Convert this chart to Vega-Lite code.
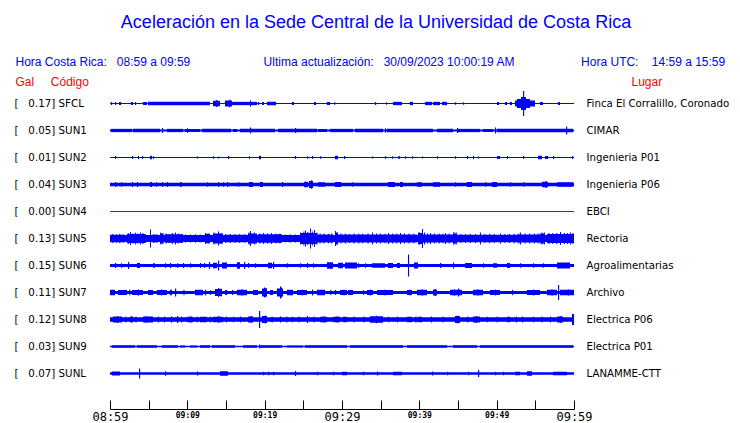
{
  "$schema": "https://vega.github.io/schema/vega-lite/v6.json",
  "autosize": "none",
  "width": 464,
  "height": 297,
  "padding": {"left": 110, "top": 90, "right": 166, "bottom": 36},
  "background": "white",
  "config": {"view": {"stroke": null}, "axis": {"grid": false}},
  "title": {
    "text": "Aceleración en la Sede Central de la Universidad de Costa Rica",
    "anchor": "middle",
    "frame": "group",
    "dx": 34,
    "offset": 23,
    "font": "Liberation Sans",
    "fontSize": 18,
    "fontWeight": "normal",
    "color": "#0000ff"
  },
  "datasets": {
    "info": [
      {"c": "SFCL", "gal": 0.17, "lab": "[\u00a0\u00a0\u00a00.17]\u00a0SFCL", "place": "Finca El Corralillo, Coronado", "floor": 1.2},
      {"c": "SUN1", "gal": 0.05, "lab": "[\u00a0\u00a0\u00a00.05]\u00a0SUN1", "place": "CIMAR", "floor": 2},
      {"c": "SUN2", "gal": 0.01, "lab": "[\u00a0\u00a0\u00a00.01]\u00a0SUN2", "place": "Ingenieria P01", "floor": 1.2},
      {"c": "SUN3", "gal": 0.04, "lab": "[\u00a0\u00a0\u00a00.04]\u00a0SUN3", "place": "Ingenieria P06", "floor": 3.3},
      {"c": "SUN4", "gal": 0.00, "lab": "[\u00a0\u00a0\u00a00.00]\u00a0SUN4", "place": "EBCI", "floor": 1},
      {"c": "SUN5", "gal": 0.13, "lab": "[\u00a0\u00a0\u00a00.13]\u00a0SUN5", "place": "Rectoria", "floor": 7},
      {"c": "SUN6", "gal": 0.15, "lab": "[\u00a0\u00a0\u00a00.15]\u00a0SUN6", "place": "Agroalimentarias", "floor": 3},
      {"c": "SUN7", "gal": 0.11, "lab": "[\u00a0\u00a0\u00a00.11]\u00a0SUN7", "place": "Archivo", "floor": 3},
      {"c": "SUN8", "gal": 0.12, "lab": "[\u00a0\u00a0\u00a00.12]\u00a0SUN8", "place": "Electrica P06", "floor": 4.5},
      {"c": "SUN9", "gal": 0.03, "lab": "[\u00a0\u00a0\u00a00.03]\u00a0SUN9", "place": "Electrica P01", "floor": 1.5},
      {"c": "SUNL", "gal": 0.07, "lab": "[\u00a0\u00a0\u00a00.07]\u00a0SUNL", "place": "LANAMME-CTT", "floor": 2.7}
    ],
    "seg": [
      {"c":"SFCL","t":0.13,"t2":0.28,"a":3},{"c":"SFCL","t":0.65,"t2":0.8,"a":3},{"c":"SFCL","t":1.16,"t2":1.42,"a":3},{"c":"SFCL","t":2.72,"t2":2.97,"a":3},{"c":"SFCL","t":3.23,"t2":3.38,"a":3},{"c":"SFCL","t":4.27,"t2":4.78,"a":3},{"c":"SFCL","t":4.91,"t2":12.93,"a":3.3},{"c":"SFCL","t":13.32,"t2":14.22,"a":5.5},{"c":"SFCL","t":13.71,"t2":13.86,"a":7},{"c":"SFCL","t":14.87,"t2":15.78,"a":6},{"c":"SFCL","t":15.4,"t2":15.55,"a":7.5},{"c":"SFCL","t":15.78,"t2":19.01,"a":3.3},{"c":"SFCL","t":18.1,"t2":18.25,"a":6},{"c":"SFCL","t":19.14,"t2":19.3,"a":3},{"c":"SFCL","t":19.66,"t2":19.91,"a":3},{"c":"SFCL","t":20.3,"t2":21.47,"a":3.5},{"c":"SFCL","t":23.53,"t2":23.79,"a":3},{"c":"SFCL","t":26.38,"t2":26.64,"a":3},{"c":"SFCL","t":28.06,"t2":28.45,"a":3},{"c":"SFCL","t":28.97,"t2":29.12,"a":2.5},{"c":"SFCL","t":34.27,"t2":34.42,"a":3},{"c":"SFCL","t":35.69,"t2":35.84,"a":2.5},{"c":"SFCL","t":36.59,"t2":37.76,"a":3.3},{"c":"SFCL","t":38.79,"t2":39.18,"a":3.3},{"c":"SFCL","t":40.73,"t2":41.64,"a":3.3},{"c":"SFCL","t":41.77,"t2":42.67,"a":3.3},{"c":"SFCL","t":42.93,"t2":43.58,"a":3.3},{"c":"SFCL","t":44.61,"t2":44.76,"a":2.5},{"c":"SFCL","t":45.65,"t2":45.8,"a":2.5},{"c":"SFCL","t":50.04,"t2":50.3,"a":3},{"c":"SFCL","t":51.08,"t2":51.34,"a":3},{"c":"SFCL","t":51.72,"t2":51.98,"a":3},{"c":"SFCL","t":52.37,"t2":54.96,"a":6},{"c":"SFCL","t":52.63,"t2":54.31,"a":9},{"c":"SFCL","t":53.15,"t2":53.79,"a":13},{"c":"SFCL","t":53.41,"t2":53.56,"a":25},{"c":"SFCL","t":55.6,"t2":55.99,"a":3},{"c":"SFCL","t":57.93,"t2":58.19,"a":3},
      {"c":"SUN1","t":0.13,"t2":2.84,"a":3.3},{"c":"SUN1","t":2.97,"t2":6.47,"a":3.5},{"c":"SUN1","t":7.37,"t2":9.44,"a":3.3},{"c":"SUN1","t":9.7,"t2":11.64,"a":3},{"c":"SUN1","t":11.9,"t2":15.65,"a":3.5},{"c":"SUN1","t":15.91,"t2":16.42,"a":3},{"c":"SUN1","t":16.81,"t2":21.34,"a":3.3},{"c":"SUN1","t":21.72,"t2":26.77,"a":3.5},{"c":"SUN1","t":26.9,"t2":28.06,"a":3},{"c":"SUN1","t":28.45,"t2":31.42,"a":3.3},{"c":"SUN1","t":31.68,"t2":35.3,"a":3.5},{"c":"SUN1","t":35.82,"t2":41.77,"a":3.3},{"c":"SUN1","t":42.28,"t2":44.35,"a":3.5},{"c":"SUN1","t":45.0,"t2":47.84,"a":3.3},{"c":"SUN1","t":48.23,"t2":49.53,"a":3},{"c":"SUN1","t":50.04,"t2":59.87,"a":3.5},{"c":"SUN1","t":6.72,"t2":6.87,"a":5},{"c":"SUN1","t":9.96,"t2":10.11,"a":4.5},{"c":"SUN1","t":18.1,"t2":18.25,"a":6},{"c":"SUN1","t":23.92,"t2":24.07,"a":5},{"c":"SUN1","t":35.56,"t2":35.71,"a":4.5},{"c":"SUN1","t":44.87,"t2":45.02,"a":5},{"c":"SUN1","t":49.78,"t2":49.93,"a":6},{"c":"SUN1","t":58.97,"t2":59.12,"a":8},
      {"c":"SUN2","t":0.65,"t2":0.8,"a":3},{"c":"SUN2","t":2.84,"t2":2.99,"a":3},{"c":"SUN2","t":3.62,"t2":3.75,"a":3.5},{"c":"SUN2","t":4.14,"t2":4.29,"a":3},{"c":"SUN2","t":5.17,"t2":5.43,"a":3.5},{"c":"SUN2","t":5.56,"t2":5.71,"a":2.5},{"c":"SUN2","t":11.25,"t2":11.4,"a":2},{"c":"SUN2","t":13.32,"t2":13.47,"a":2.5},{"c":"SUN2","t":13.97,"t2":14.12,"a":2},{"c":"SUN2","t":15.26,"t2":15.41,"a":3},{"c":"SUN2","t":17.97,"t2":18.12,"a":2.5},{"c":"SUN2","t":19.27,"t2":19.53,"a":3.5},{"c":"SUN2","t":23.92,"t2":24.07,"a":3},{"c":"SUN2","t":25.47,"t2":25.62,"a":2.5},{"c":"SUN2","t":26.12,"t2":26.25,"a":3},{"c":"SUN2","t":27.16,"t2":27.31,"a":2.5},{"c":"SUN2","t":29.09,"t2":29.48,"a":3.5},{"c":"SUN2","t":30.26,"t2":30.41,"a":3},{"c":"SUN2","t":33.88,"t2":34.03,"a":2},{"c":"SUN2","t":35.56,"t2":35.71,"a":2.5},{"c":"SUN2","t":36.47,"t2":36.62,"a":2.5},{"c":"SUN2","t":37.24,"t2":37.5,"a":2.5},{"c":"SUN2","t":38.15,"t2":38.3,"a":2.5},{"c":"SUN2","t":39.05,"t2":39.2,"a":2.5},{"c":"SUN2","t":40.34,"t2":40.49,"a":2},{"c":"SUN2","t":42.28,"t2":42.43,"a":2.5},{"c":"SUN2","t":44.61,"t2":44.76,"a":2.5},{"c":"SUN2","t":46.16,"t2":46.31,"a":3},{"c":"SUN2","t":46.94,"t2":47.07,"a":3.5},{"c":"SUN2","t":47.59,"t2":47.74,"a":2},{"c":"SUN2","t":50.04,"t2":50.43,"a":3},{"c":"SUN2","t":51.34,"t2":51.47,"a":3},{"c":"SUN2","t":53.41,"t2":53.56,"a":3},{"c":"SUN2","t":55.34,"t2":55.86,"a":3.5},{"c":"SUN2","t":56.25,"t2":56.64,"a":3},{"c":"SUN2","t":57.28,"t2":57.43,"a":3},{"c":"SUN2","t":59.75,"t2":59.9,"a":3},
      {"c":"SUN3","t":0.65,"t2":0.8,"a":5},{"c":"SUN3","t":1.42,"t2":1.57,"a":4.5},{"c":"SUN3","t":2.84,"t2":2.99,"a":5},{"c":"SUN3","t":3.49,"t2":3.64,"a":5},{"c":"SUN3","t":5.17,"t2":5.43,"a":5},{"c":"SUN3","t":5.95,"t2":6.1,"a":4.5},{"c":"SUN3","t":6.72,"t2":6.87,"a":4.5},{"c":"SUN3","t":7.37,"t2":7.52,"a":5},{"c":"SUN3","t":9.05,"t2":9.31,"a":4.5},{"c":"SUN3","t":12.54,"t2":12.69,"a":4.5},{"c":"SUN3","t":13.97,"t2":14.12,"a":4.5},{"c":"SUN3","t":14.61,"t2":14.76,"a":4.5},{"c":"SUN3","t":15.13,"t2":15.28,"a":5},{"c":"SUN3","t":16.55,"t2":16.7,"a":4.5},{"c":"SUN3","t":17.97,"t2":18.49,"a":5},{"c":"SUN3","t":19.4,"t2":19.78,"a":5},{"c":"SUN3","t":22.24,"t2":22.39,"a":5},{"c":"SUN3","t":25.09,"t2":25.6,"a":5.5},{"c":"SUN3","t":25.73,"t2":26.25,"a":7},{"c":"SUN3","t":25.99,"t2":26.14,"a":8.5},{"c":"SUN3","t":26.9,"t2":27.8,"a":4.5},{"c":"SUN3","t":29.09,"t2":29.87,"a":5},{"c":"SUN3","t":31.29,"t2":31.44,"a":4.5},{"c":"SUN3","t":35.95,"t2":36.85,"a":5},{"c":"SUN3","t":37.5,"t2":37.89,"a":5},{"c":"SUN3","t":39.7,"t2":40.34,"a":4.5},{"c":"SUN3","t":41.77,"t2":42.67,"a":4.5},{"c":"SUN3","t":44.61,"t2":44.76,"a":4.5},{"c":"SUN3","t":46.16,"t2":46.81,"a":5},{"c":"SUN3","t":48.49,"t2":48.64,"a":4.5},{"c":"SUN3","t":49.4,"t2":50.04,"a":5},{"c":"SUN3","t":51.72,"t2":51.87,"a":4.5},{"c":"SUN3","t":53.41,"t2":53.56,"a":4.5},{"c":"SUN3","t":55.86,"t2":56.64,"a":5.5},{"c":"SUN3","t":56.3,"t2":56.45,"a":7},{"c":"SUN3","t":57.8,"t2":59.87,"a":4.5},
      {"c":"SUN5","t":0,"t2":1.94,"a":7.5},{"c":"SUN5","t":2.2,"t2":4.53,"a":9},{"c":"SUN5","t":5.43,"t2":6.21,"a":7.5},{"c":"SUN5","t":6.47,"t2":6.85,"a":10},{"c":"SUN5","t":7.11,"t2":9.44,"a":8.5},{"c":"SUN5","t":12.28,"t2":12.93,"a":9.5},{"c":"SUN5","t":13.32,"t2":14.61,"a":10},{"c":"SUN5","t":14.87,"t2":17.72,"a":7.5},{"c":"SUN5","t":17.85,"t2":19.01,"a":10},{"c":"SUN5","t":19.14,"t2":22.24,"a":8.5},{"c":"SUN5","t":24.57,"t2":26.77,"a":11},{"c":"SUN5","t":26.77,"t2":28.84,"a":8},{"c":"SUN5","t":29.09,"t2":29.48,"a":11},{"c":"SUN5","t":29.48,"t2":39.7,"a":8},{"c":"SUN5","t":39.83,"t2":40.47,"a":11},{"c":"SUN5","t":40.47,"t2":44.35,"a":8},{"c":"SUN5","t":44.35,"t2":44.87,"a":10},{"c":"SUN5","t":44.87,"t2":52.63,"a":7.5},{"c":"SUN5","t":52.63,"t2":55.6,"a":8},{"c":"SUN5","t":55.6,"t2":56.25,"a":10},{"c":"SUN5","t":56.51,"t2":60,"a":9},
      {"c":"SUN5","t":0.3,"t2":0.43,"a":9},{"c":"SUN5","t":0.8,"t2":0.93,"a":8.5},{"c":"SUN5","t":1.2,"t2":1.33,"a":9.5},{"c":"SUN5","t":1.6,"t2":1.73,"a":8},{"c":"SUN5","t":2.3,"t2":2.43,"a":11},{"c":"SUN5","t":2.59,"t2":2.72,"a":13},{"c":"SUN5","t":2.9,"t2":3.03,"a":10},{"c":"SUN5","t":3.2,"t2":3.33,"a":12},{"c":"SUN5","t":3.5,"t2":3.63,"a":10},{"c":"SUN5","t":3.88,"t2":4.01,"a":12},{"c":"SUN5","t":4.2,"t2":4.33,"a":11},{"c":"SUN5","t":4.5,"t2":4.63,"a":9},{"c":"SUN5","t":5.17,"t2":5.3,"a":18},{"c":"SUN5","t":5.6,"t2":5.73,"a":9},{"c":"SUN5","t":6.0,"t2":6.13,"a":8.5},{"c":"SUN5","t":6.5,"t2":6.63,"a":12},{"c":"SUN5","t":6.8,"t2":6.93,"a":11},{"c":"SUN5","t":7.2,"t2":7.33,"a":10},{"c":"SUN5","t":7.6,"t2":7.73,"a":9},{"c":"SUN5","t":8.0,"t2":8.13,"a":11},{"c":"SUN5","t":8.41,"t2":8.54,"a":12},{"c":"SUN5","t":8.8,"t2":8.93,"a":10},{"c":"SUN5","t":9.2,"t2":9.33,"a":9},{"c":"SUN5","t":9.7,"t2":9.83,"a":8},{"c":"SUN5","t":10.3,"t2":10.43,"a":8},{"c":"SUN5","t":11.0,"t2":11.13,"a":8.5},{"c":"SUN5","t":11.6,"t2":11.73,"a":8},{"c":"SUN5","t":12.3,"t2":12.43,"a":11},{"c":"SUN5","t":12.7,"t2":12.83,"a":10},{"c":"SUN5","t":13.4,"t2":13.53,"a":12},{"c":"SUN5","t":13.97,"t2":14.1,"a":14},{"c":"SUN5","t":14.3,"t2":14.43,"a":11},{"c":"SUN5","t":14.9,"t2":15.03,"a":9},{"c":"SUN5","t":15.5,"t2":15.63,"a":9},{"c":"SUN5","t":16.1,"t2":16.23,"a":8.5},{"c":"SUN5","t":16.7,"t2":16.83,"a":9},{"c":"SUN5","t":17.3,"t2":17.43,"a":8.5},{"c":"SUN5","t":17.9,"t2":18.03,"a":12},{"c":"SUN5","t":18.1,"t2":18.23,"a":15},{"c":"SUN5","t":18.6,"t2":18.73,"a":12},{"c":"SUN5","t":19.3,"t2":19.43,"a":10},{"c":"SUN5","t":19.8,"t2":19.93,"a":11},{"c":"SUN5","t":20.3,"t2":20.43,"a":10},{"c":"SUN5","t":20.8,"t2":20.93,"a":11},{"c":"SUN5","t":21.4,"t2":21.53,"a":10},{"c":"SUN5","t":21.9,"t2":22.03,"a":10},{"c":"SUN5","t":22.6,"t2":22.73,"a":8},{"c":"SUN5","t":23.2,"t2":23.33,"a":8.5},{"c":"SUN5","t":23.9,"t2":24.03,"a":8},{"c":"SUN5","t":24.6,"t2":24.73,"a":12},{"c":"SUN5","t":25.0,"t2":25.13,"a":14},{"c":"SUN5","t":25.22,"t2":25.35,"a":16},{"c":"SUN5","t":25.5,"t2":25.63,"a":13},{"c":"SUN5","t":25.86,"t2":25.99,"a":20},{"c":"SUN5","t":26.1,"t2":26.23,"a":14},{"c":"SUN5","t":26.38,"t2":26.51,"a":17},{"c":"SUN5","t":26.7,"t2":26.83,"a":12},{"c":"SUN5","t":27.1,"t2":27.23,"a":10},{"c":"SUN5","t":27.6,"t2":27.73,"a":10},{"c":"SUN5","t":28.2,"t2":28.33,"a":9.5},{"c":"SUN5","t":28.6,"t2":28.73,"a":10},{"c":"SUN5","t":29.1,"t2":29.23,"a":15},{"c":"SUN5","t":29.3,"t2":29.43,"a":13},{"c":"SUN5","t":29.8,"t2":29.93,"a":10},{"c":"SUN5","t":30.4,"t2":30.53,"a":10},{"c":"SUN5","t":30.9,"t2":31.03,"a":9},{"c":"SUN5","t":31.5,"t2":31.63,"a":10},{"c":"SUN5","t":32.1,"t2":32.23,"a":10},{"c":"SUN5","t":32.6,"t2":32.73,"a":9.5},{"c":"SUN5","t":33.3,"t2":33.43,"a":10},{"c":"SUN5","t":33.88,"t2":34.01,"a":12},{"c":"SUN5","t":34.4,"t2":34.53,"a":10},{"c":"SUN5","t":34.9,"t2":35.03,"a":10},{"c":"SUN5","t":35.5,"t2":35.63,"a":9.5},{"c":"SUN5","t":35.95,"t2":36.08,"a":11},{"c":"SUN5","t":36.5,"t2":36.63,"a":10},{"c":"SUN5","t":37.0,"t2":37.13,"a":10},{"c":"SUN5","t":37.5,"t2":37.63,"a":11},{"c":"SUN5","t":38.0,"t2":38.13,"a":10},{"c":"SUN5","t":38.6,"t2":38.73,"a":10},{"c":"SUN5","t":39.2,"t2":39.33,"a":9.5},{"c":"SUN5","t":39.9,"t2":40.03,"a":13},{"c":"SUN5","t":40.34,"t2":40.47,"a":19},{"c":"SUN5","t":40.6,"t2":40.73,"a":12},{"c":"SUN5","t":41.0,"t2":41.13,"a":10},{"c":"SUN5","t":41.38,"t2":41.51,"a":11},{"c":"SUN5","t":41.9,"t2":42.03,"a":10},{"c":"SUN5","t":42.5,"t2":42.63,"a":10},{"c":"SUN5","t":43.0,"t2":43.13,"a":9.5},{"c":"SUN5","t":43.32,"t2":43.45,"a":11},{"c":"SUN5","t":43.8,"t2":43.93,"a":10},{"c":"SUN5","t":44.4,"t2":44.53,"a":13},{"c":"SUN5","t":44.7,"t2":44.83,"a":12},{"c":"SUN5","t":45.3,"t2":45.43,"a":9},{"c":"SUN5","t":45.9,"t2":46.03,"a":9},{"c":"SUN5","t":46.5,"t2":46.63,"a":9.5},{"c":"SUN5","t":47.2,"t2":47.33,"a":9},{"c":"SUN5","t":47.84,"t2":47.97,"a":12},{"c":"SUN5","t":48.4,"t2":48.53,"a":9},{"c":"SUN5","t":49.0,"t2":49.13,"a":9.5},{"c":"SUN5","t":49.6,"t2":49.73,"a":9},{"c":"SUN5","t":50.43,"t2":50.56,"a":10},{"c":"SUN5","t":51.0,"t2":51.13,"a":9},{"c":"SUN5","t":51.6,"t2":51.73,"a":9},{"c":"SUN5","t":52.2,"t2":52.33,"a":9.5},{"c":"SUN5","t":52.8,"t2":52.93,"a":10},{"c":"SUN5","t":53.02,"t2":53.15,"a":12},{"c":"SUN5","t":53.6,"t2":53.73,"a":10},{"c":"SUN5","t":54.2,"t2":54.33,"a":10},{"c":"SUN5","t":54.8,"t2":54.93,"a":10},{"c":"SUN5","t":55.3,"t2":55.43,"a":10},{"c":"SUN5","t":55.8,"t2":55.93,"a":12},{"c":"SUN5","t":56.1,"t2":56.23,"a":12},{"c":"SUN5","t":56.7,"t2":56.83,"a":11},{"c":"SUN5","t":57.2,"t2":57.33,"a":11},{"c":"SUN5","t":57.7,"t2":57.83,"a":11},{"c":"SUN5","t":58.19,"t2":58.32,"a":13},{"c":"SUN5","t":58.7,"t2":58.83,"a":11},{"c":"SUN5","t":59.1,"t2":59.23,"a":11},{"c":"SUN5","t":59.48,"t2":59.61,"a":12},{"c":"SUN5","t":59.8,"t2":59.93,"a":11},
      {"c":"SUN6","t":0.65,"t2":0.8,"a":5},{"c":"SUN6","t":1.42,"t2":1.57,"a":4.5},{"c":"SUN6","t":2.33,"t2":2.48,"a":7},{"c":"SUN6","t":3.49,"t2":3.88,"a":5},{"c":"SUN6","t":5.56,"t2":5.82,"a":4.5},{"c":"SUN6","t":7.11,"t2":7.26,"a":4.5},{"c":"SUN6","t":7.76,"t2":7.91,"a":5},{"c":"SUN6","t":8.66,"t2":8.81,"a":4.5},{"c":"SUN6","t":9.44,"t2":9.59,"a":5},{"c":"SUN6","t":10.34,"t2":10.49,"a":4.5},{"c":"SUN6","t":11.64,"t2":11.79,"a":5},{"c":"SUN6","t":12.16,"t2":12.31,"a":5},{"c":"SUN6","t":12.8,"t2":12.95,"a":7},{"c":"SUN6","t":13.32,"t2":13.84,"a":5.5},{"c":"SUN6","t":13.97,"t2":14.12,"a":10},{"c":"SUN6","t":14.48,"t2":15.13,"a":6},{"c":"SUN6","t":16.42,"t2":16.81,"a":6.5},{"c":"SUN6","t":17.33,"t2":17.48,"a":7},{"c":"SUN6","t":17.85,"t2":18.0,"a":5},{"c":"SUN6","t":18.75,"t2":18.9,"a":4.5},{"c":"SUN6","t":20.43,"t2":20.95,"a":5.5},{"c":"SUN6","t":21.08,"t2":21.23,"a":7},{"c":"SUN6","t":22.89,"t2":23.04,"a":4.5},{"c":"SUN6","t":24.57,"t2":24.72,"a":4.5},{"c":"SUN6","t":25.47,"t2":25.62,"a":5},{"c":"SUN6","t":26.25,"t2":26.4,"a":4.5},{"c":"SUN6","t":28.06,"t2":28.84,"a":6.5},{"c":"SUN6","t":29.48,"t2":30.13,"a":5.5},{"c":"SUN6","t":30.39,"t2":31.94,"a":6},{"c":"SUN6","t":32.07,"t2":32.22,"a":4.5},{"c":"SUN6","t":32.97,"t2":33.12,"a":4.5},{"c":"SUN6","t":33.88,"t2":35.56,"a":4.5},{"c":"SUN6","t":35.95,"t2":36.59,"a":5},{"c":"SUN6","t":37.11,"t2":37.5,"a":5},{"c":"SUN6","t":38.53,"t2":38.68,"a":22},{"c":"SUN6","t":39.31,"t2":39.83,"a":6},{"c":"SUN6","t":42.67,"t2":42.82,"a":5},{"c":"SUN6","t":44.35,"t2":44.5,"a":6},{"c":"SUN6","t":45.91,"t2":46.81,"a":5},{"c":"SUN6","t":48.23,"t2":48.38,"a":4.5},{"c":"SUN6","t":49.53,"t2":50.04,"a":4.5},{"c":"SUN6","t":51.34,"t2":51.72,"a":5},{"c":"SUN6","t":53.02,"t2":53.17,"a":4.5},{"c":"SUN6","t":54.7,"t2":54.85,"a":4.5},{"c":"SUN6","t":55.99,"t2":56.14,"a":4.5},{"c":"SUN6","t":57.8,"t2":59.48,"a":6},
      {"c":"SUN7","t":0,"t2":0.65,"a":5.5},{"c":"SUN7","t":1.03,"t2":2.2,"a":5},{"c":"SUN7","t":2.84,"t2":4.27,"a":5},{"c":"SUN7","t":4.91,"t2":5.56,"a":5},{"c":"SUN7","t":6.08,"t2":7.37,"a":5},{"c":"SUN7","t":7.76,"t2":8.02,"a":5.5},{"c":"SUN7","t":8.41,"t2":8.56,"a":8},{"c":"SUN7","t":10.99,"t2":12.03,"a":5.5},{"c":"SUN7","t":12.93,"t2":13.08,"a":4.5},{"c":"SUN7","t":13.58,"t2":14.48,"a":7},{"c":"SUN7","t":13.97,"t2":14.12,"a":9},{"c":"SUN7","t":14.87,"t2":15.13,"a":5},{"c":"SUN7","t":15.78,"t2":15.93,"a":5},{"c":"SUN7","t":16.42,"t2":17.72,"a":5.5},{"c":"SUN7","t":18.49,"t2":19.14,"a":5},{"c":"SUN7","t":19.66,"t2":20.3,"a":8},{"c":"SUN7","t":19.91,"t2":20.06,"a":10},{"c":"SUN7","t":20.69,"t2":21.08,"a":5},{"c":"SUN7","t":21.59,"t2":22.37,"a":8},{"c":"SUN7","t":21.98,"t2":22.13,"a":12},{"c":"SUN7","t":22.89,"t2":23.66,"a":5.5},{"c":"SUN7","t":24.18,"t2":25.47,"a":5},{"c":"SUN7","t":26.12,"t2":26.27,"a":6},{"c":"SUN7","t":26.77,"t2":27.8,"a":5.5},{"c":"SUN7","t":29.09,"t2":29.24,"a":5},{"c":"SUN7","t":29.74,"t2":30.65,"a":5},{"c":"SUN7","t":30.78,"t2":31.42,"a":5},{"c":"SUN7","t":32.72,"t2":32.87,"a":4.5},{"c":"SUN7","t":33.23,"t2":34.01,"a":5},{"c":"SUN7","t":34.53,"t2":36.59,"a":5},{"c":"SUN7","t":38.41,"t2":39.05,"a":5},{"c":"SUN7","t":39.7,"t2":40.99,"a":5.5},{"c":"SUN7","t":41.77,"t2":42.28,"a":6},{"c":"SUN7","t":43.97,"t2":45.52,"a":5.5},{"c":"SUN7","t":45.0,"t2":45.15,"a":8},{"c":"SUN7","t":46.94,"t2":48.23,"a":5.5},{"c":"SUN7","t":49.14,"t2":50.43,"a":5},{"c":"SUN7","t":53.92,"t2":55.6,"a":5},{"c":"SUN7","t":56.51,"t2":57.8,"a":5.5},{"c":"SUN7","t":57.93,"t2":58.08,"a":15},{"c":"SUN7","t":58.19,"t2":60,"a":5.5},
      {"c":"SUN7","t":2.5,"t2":2.63,"a":6},{"c":"SUN7","t":3.6,"t2":3.73,"a":6.5},{"c":"SUN7","t":6.6,"t2":6.73,"a":6},{"c":"SUN7","t":9.5,"t2":9.63,"a":5.5},{"c":"SUN7","t":12.3,"t2":12.43,"a":6},{"c":"SUN7","t":14.3,"t2":14.43,"a":8},{"c":"SUN7","t":17.0,"t2":17.13,"a":6.5},{"c":"SUN7","t":20.1,"t2":20.23,"a":9},{"c":"SUN7","t":22.1,"t2":22.23,"a":10},{"c":"SUN7","t":24.8,"t2":24.93,"a":6},{"c":"SUN7","t":28.5,"t2":28.63,"a":5.5},{"c":"SUN7","t":30.2,"t2":30.33,"a":6},{"c":"SUN7","t":33.6,"t2":33.73,"a":6},{"c":"SUN7","t":35.5,"t2":35.63,"a":6},{"c":"SUN7","t":38.7,"t2":38.83,"a":6},{"c":"SUN7","t":40.3,"t2":40.43,"a":6.5},{"c":"SUN7","t":42.0,"t2":42.13,"a":7},{"c":"SUN7","t":44.5,"t2":44.63,"a":6.5},{"c":"SUN7","t":47.5,"t2":47.63,"a":6.5},{"c":"SUN7","t":49.8,"t2":49.93,"a":6},{"c":"SUN7","t":52.0,"t2":52.13,"a":5.5},{"c":"SUN7","t":54.7,"t2":54.83,"a":6},{"c":"SUN7","t":57.1,"t2":57.23,"a":6.5},{"c":"SUN7","t":59.2,"t2":59.33,"a":6.5},
      {"c":"SUN8","t":0.39,"t2":1.55,"a":6},{"c":"SUN8","t":2.59,"t2":2.97,"a":6},{"c":"SUN8","t":4.27,"t2":5.56,"a":6},{"c":"SUN8","t":8.66,"t2":8.81,"a":7},{"c":"SUN8","t":9.96,"t2":10.73,"a":5.5},{"c":"SUN8","t":11.64,"t2":12.54,"a":5.5},{"c":"SUN8","t":13.32,"t2":14.61,"a":5.5},{"c":"SUN8","t":15.91,"t2":16.06,"a":5.5},{"c":"SUN8","t":17.85,"t2":18.49,"a":6},{"c":"SUN8","t":19.27,"t2":19.42,"a":17},{"c":"SUN8","t":19.66,"t2":20.3,"a":7},{"c":"SUN8","t":21.98,"t2":22.13,"a":6},{"c":"SUN8","t":23.53,"t2":23.68,"a":5.5},{"c":"SUN8","t":25.47,"t2":25.62,"a":7},{"c":"SUN8","t":27.16,"t2":28.06,"a":5.5},{"c":"SUN8","t":28.84,"t2":29.74,"a":5.5},{"c":"SUN8","t":30.13,"t2":30.65,"a":5.5},{"c":"SUN8","t":33.62,"t2":35.3,"a":6.5},{"c":"SUN8","t":35.95,"t2":36.1,"a":5.5},{"c":"SUN8","t":38.41,"t2":39.05,"a":5.5},{"c":"SUN8","t":39.83,"t2":40.34,"a":5.5},{"c":"SUN8","t":44.61,"t2":45.26,"a":7},{"c":"SUN8","t":46.94,"t2":47.84,"a":6},{"c":"SUN8","t":48.75,"t2":48.9,"a":5.5},{"c":"SUN8","t":51.34,"t2":51.72,"a":5.5},{"c":"SUN8","t":53.28,"t2":53.43,"a":6},{"c":"SUN8","t":54.7,"t2":54.85,"a":5.5},{"c":"SUN8","t":57.8,"t2":58.58,"a":6},{"c":"SUN8","t":59.74,"t2":60,"a":11},
      {"c":"SUN8","t":0.9,"t2":1.03,"a":7},{"c":"SUN8","t":2.0,"t2":2.13,"a":6},{"c":"SUN8","t":3.3,"t2":3.43,"a":6},{"c":"SUN8","t":4.6,"t2":4.73,"a":7},{"c":"SUN8","t":6.2,"t2":6.33,"a":6},{"c":"SUN8","t":7.0,"t2":7.13,"a":6},{"c":"SUN8","t":7.9,"t2":8.03,"a":6.5},{"c":"SUN8","t":9.2,"t2":9.33,"a":6},{"c":"SUN8","t":10.4,"t2":10.53,"a":6.5},{"c":"SUN8","t":11.2,"t2":11.33,"a":6},{"c":"SUN8","t":12.9,"t2":13.03,"a":6},{"c":"SUN8","t":14.0,"t2":14.13,"a":7},{"c":"SUN8","t":15.0,"t2":15.13,"a":6},{"c":"SUN8","t":16.8,"t2":16.93,"a":6},{"c":"SUN8","t":18.2,"t2":18.33,"a":7},{"c":"SUN8","t":20.0,"t2":20.13,"a":8},{"c":"SUN8","t":20.9,"t2":21.03,"a":6},{"c":"SUN8","t":22.8,"t2":22.93,"a":6},{"c":"SUN8","t":24.4,"t2":24.53,"a":6},{"c":"SUN8","t":26.3,"t2":26.43,"a":6},{"c":"SUN8","t":27.6,"t2":27.73,"a":6.5},{"c":"SUN8","t":29.3,"t2":29.43,"a":6.5},{"c":"SUN8","t":31.5,"t2":31.63,"a":6},{"c":"SUN8","t":32.8,"t2":32.93,"a":6},{"c":"SUN8","t":34.4,"t2":34.53,"a":7.5},{"c":"SUN8","t":37.1,"t2":37.23,"a":6},{"c":"SUN8","t":39.5,"t2":39.63,"a":6.5},{"c":"SUN8","t":41.5,"t2":41.63,"a":6},{"c":"SUN8","t":43.0,"t2":43.13,"a":6},{"c":"SUN8","t":44.9,"t2":45.03,"a":8},{"c":"SUN8","t":46.2,"t2":46.33,"a":6},{"c":"SUN8","t":47.3,"t2":47.43,"a":7},{"c":"SUN8","t":50.0,"t2":50.13,"a":6},{"c":"SUN8","t":52.5,"t2":52.63,"a":6},{"c":"SUN8","t":55.8,"t2":55.93,"a":6},{"c":"SUN8","t":56.9,"t2":57.03,"a":6},{"c":"SUN8","t":58.2,"t2":58.33,"a":7},
      {"c":"SUN9","t":0.26,"t2":3.23,"a":2.5},{"c":"SUN9","t":3.49,"t2":6.08,"a":2.5},{"c":"SUN9","t":6.72,"t2":8.79,"a":2.5},{"c":"SUN9","t":9.05,"t2":9.7,"a":2},{"c":"SUN9","t":10.34,"t2":11.25,"a":2},{"c":"SUN9","t":11.64,"t2":12.93,"a":2.5},{"c":"SUN9","t":13.19,"t2":16.16,"a":2.5},{"c":"SUN9","t":17.2,"t2":19.01,"a":2.5},{"c":"SUN9","t":19.27,"t2":19.42,"a":4},{"c":"SUN9","t":19.4,"t2":22.24,"a":2.5},{"c":"SUN9","t":22.89,"t2":24.96,"a":2},{"c":"SUN9","t":25.22,"t2":30.65,"a":2.5},{"c":"SUN9","t":31.03,"t2":37.89,"a":2.5},{"c":"SUN9","t":38.41,"t2":43.58,"a":2.5},{"c":"SUN9","t":44.35,"t2":47.46,"a":2.5},{"c":"SUN9","t":47.84,"t2":59.87,"a":2.5},
      {"c":"SUNL","t":0.26,"t2":1.29,"a":4},{"c":"SUNL","t":3.75,"t2":3.9,"a":10},{"c":"SUNL","t":7.11,"t2":7.26,"a":4.5},{"c":"SUNL","t":11.25,"t2":11.4,"a":4},{"c":"SUNL","t":14.22,"t2":15.26,"a":4.5},{"c":"SUNL","t":19.78,"t2":19.93,"a":3.5},{"c":"SUNL","t":20.43,"t2":20.58,"a":3.5},{"c":"SUNL","t":21.08,"t2":21.23,"a":3.5},{"c":"SUNL","t":23.92,"t2":24.07,"a":5},{"c":"SUNL","t":26.77,"t2":26.92,"a":3.5},{"c":"SUNL","t":28.84,"t2":28.99,"a":3.5},{"c":"SUNL","t":30.0,"t2":30.65,"a":3.5},{"c":"SUNL","t":32.72,"t2":32.87,"a":3.5},{"c":"SUNL","t":34.53,"t2":34.68,"a":4},{"c":"SUNL","t":36.59,"t2":37.76,"a":3.5},{"c":"SUNL","t":41.64,"t2":41.79,"a":4},{"c":"SUNL","t":43.58,"t2":43.73,"a":3.5},{"c":"SUNL","t":46.29,"t2":46.44,"a":3.5},{"c":"SUNL","t":47.59,"t2":47.74,"a":7},{"c":"SUNL","t":49.78,"t2":49.93,"a":3.5},{"c":"SUNL","t":50.82,"t2":50.97,"a":3.5},{"c":"SUNL","t":52.37,"t2":53.02,"a":3.5},{"c":"SUNL","t":53.92,"t2":54.57,"a":4.5},{"c":"SUNL","t":57.28,"t2":59.1,"a":3.5}
    ]
  },
  "layer": [
    {
      "data": {"name": "info"},
      "mark": {"type": "rule", "strokeCap": "butt"},
      "encoding": {
        "x": {
          "datum": 0, "type": "quantitative",
          "scale": {"domain": [0, 60], "nice": false, "zero": false},
          "axis": {
            "orient": "bottom",
            "values": [0, 5, 10, 15, 20, 25, 30, 35, 40, 45, 50, 55, 60],
            "labelExpr": "datum.value == 0 ? '08:59' : (datum.value % 10 == 0 ? '09:' + (datum.value == 10 ? '09' : '' + (datum.value - 1)) : '')",
            "labelFont": "DejaVu Sans Mono",
            "labelFontSize": {"condition": {"test": "datum.value % 30 == 0", "value": 12}, "value": 8},
            "labelFontWeight": {"condition": {"test": "datum.value % 30 == 0", "value": "normal"}, "value": "bold"},
            "labelColor": "#000000",
            "labelFlush": false,
            "labelOverlap": false,
            "labelAngle": 0,
            "labelBaseline": "top",
            "labelPadding": 11,
            "tickSize": -9,
            "tickColor": "#000000",
            "domainColor": "#000000",
            "grid": false,
            "title": null,
            "offset": 22
          }
        },
        "x2": {"datum": 60},
        "y": {
          "field": "lab", "type": "nominal",
          "scale": {"type": "point", "padding": 0.5, "domain": [
            "[\u00a0\u00a0\u00a00.17]\u00a0SFCL", "[\u00a0\u00a0\u00a00.05]\u00a0SUN1", "[\u00a0\u00a0\u00a00.01]\u00a0SUN2", "[\u00a0\u00a0\u00a00.04]\u00a0SUN3", "[\u00a0\u00a0\u00a00.00]\u00a0SUN4", "[\u00a0\u00a0\u00a00.13]\u00a0SUN5", "[\u00a0\u00a0\u00a00.15]\u00a0SUN6", "[\u00a0\u00a0\u00a00.11]\u00a0SUN7", "[\u00a0\u00a0\u00a00.12]\u00a0SUN8", "[\u00a0\u00a0\u00a00.03]\u00a0SUN9", "[\u00a0\u00a0\u00a00.07]\u00a0SUNL"]},
          "axis": {
            "orient": "left", "ticks": false, "tickSize": 0, "domain": false, "grid": false,
            "labelAlign": "left", "labelPadding": 96, "labelBaseline": "middle",
            "labelFont": "DejaVu Sans", "labelFontSize": 10.3, "labelColor": "#000000", "labelLimit": 300,
            "title": "Gal\u00a0\u00a0\u00a0\u00a0\u00a0Código", "titleAngle": 0, "titleX": -95, "titleY": -5,
            "titleAlign": "left", "titleBaseline": "alphabetic", "titleFont": "Liberation Sans",
            "titleFontSize": 12, "titleFontWeight": "normal", "titleColor": "#ff0000"
          }
        },
        "size": {"field": "floor", "type": "quantitative", "scale": {"domain": [0, 30], "range": [0, 30], "zero": true}, "legend": null},
        "color": {"condition": {"test": "datum.c === 'SUN4'", "value": "#cc0000"}, "value": "#0000ff"}
      }
    },
    {
      "data": {"name": "seg"},
      "transform": [{"lookup": "c", "from": {"data": {"name": "info"}, "key": "c", "fields": ["place"]}}],
      "mark": {"type": "rule", "strokeCap": "butt"},
      "encoding": {
        "x": {
          "field": "t", "type": "quantitative",
          "axis": {
            "orient": "top", "labels": false, "ticks": false, "domain": false, "grid": false,
            "title": "Hora Costa Rica:\u00a0\u00a0\u00a008:59 a 09:59\u00a0\u00a0\u00a0\u00a0\u00a0\u00a0\u00a0\u00a0\u00a0\u00a0\u00a0\u00a0\u00a0\u00a0\u00a0\u00a0\u00a0\u00a0\u00a0\u00a0\u00a0\u00a0Ultima actualización:\u00a0\u00a0\u00a030/09/2023 10:00:19 AM\u00a0\u00a0\u00a0\u00a0\u00a0\u00a0\u00a0\u00a0\u00a0\u00a0\u00a0\u00a0\u00a0\u00a0\u00a0\u00a0\u00a0\u00a0\u00a0\u00a0Hora UTC:\u00a0\u00a0\u00a0\u00a014:59 a 15:59",
            "titleX": -95, "titleY": -25, "titleAlign": "left", "titleAnchor": "start", "titleBaseline": "alphabetic", "titleAngle": 0,
            "titleFont": "Liberation Sans", "titleFontSize": 12, "titleFontWeight": "normal", "titleColor": "#0000ff", "titleLimit": 0
          }
        },
        "x2": {"field": "t2"},
        "y": {
          "field": "place", "type": "nominal",
          "scale": {"type": "point", "padding": 0.5, "domain": ["Finca El Corralillo, Coronado", "CIMAR", "Ingenieria P01", "Ingenieria P06", "EBCI", "Rectoria", "Agroalimentarias", "Archivo", "Electrica P06", "Electrica P01", "LANAMME-CTT"]},
          "axis": {
            "orient": "right", "ticks": false, "tickSize": 0, "domain": false, "grid": false,
            "labelAlign": "left", "labelPadding": 12, "labelBaseline": "middle",
            "labelFont": "DejaVu Sans", "labelFontSize": 10.2, "labelColor": "#000000", "labelLimit": 300,
            "title": "Lugar", "titleAngle": 0, "titleX": 57, "titleY": -5,
            "titleAlign": "left", "titleBaseline": "alphabetic", "titleFont": "Liberation Sans",
            "titleFontSize": 12, "titleFontWeight": "normal", "titleColor": "#ff0000"
          }
        },
        "size": {"field": "a", "type": "quantitative", "legend": null},
        "color": {"value": "#0000ff"}
      }
    }
  ],
  "resolve": {"scale": {"y": "independent"}, "axis": {"y": "independent", "x": "independent"}}
}
